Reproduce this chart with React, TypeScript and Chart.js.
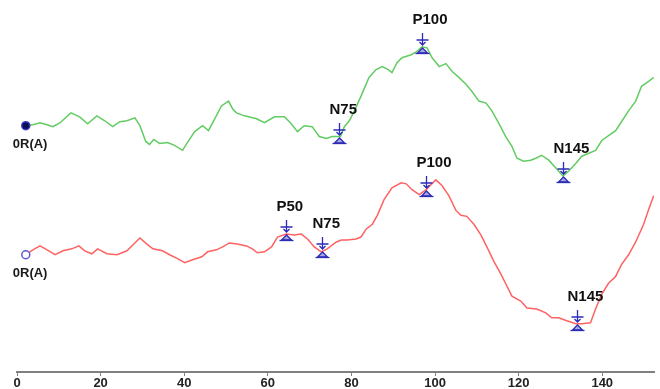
import React, { useEffect, useRef } from "react";
import { Chart, registerables } from "chart.js";

Chart.register(...registerables);

// ---- axis ----
const xMin = 0;
const xMax = 152.5;
const xTickStep = 20;

// ---- green trace (upper) : latency (ms) and amplitude ----
const greenLatency = [
  2.1, 3.8, 5.5, 7.2, 8.6, 10.3, 12.9, 15.0, 16.9, 19.1, 21.0, 22.9, 24.6, 26.3, 28.2, 29.4,
  30.8, 31.7, 32.7, 34.1, 36.0, 37.7, 39.6, 40.8, 42.5, 44.4, 45.8, 47.3, 48.9, 50.6, 51.6,
  52.5, 54.4, 57.3, 59.2, 61.6, 64.0, 65.6, 67.1, 68.7, 70.6, 72.3, 74.0, 75.4, 76.6, 77.4,
  78.3, 79.5, 80.7, 82.3, 84.2, 85.9, 87.4, 88.8, 89.7, 90.9, 92.1, 94.3, 95.5, 96.9, 98.1,
  99.3, 101.0, 102.6, 104.1, 105.7, 107.4, 108.8, 110.5, 112.2, 113.6, 115.3, 116.9, 118.4,
  119.6, 121.2, 122.9, 124.1, 125.5, 127.2, 128.9, 130.6, 132.0, 133.7, 135.1, 138.4, 139.9,
  141.5, 143.2, 144.6, 146.3, 148.0, 149.4, 151.1, 152.3,
];
const greenAmplitude = [
  0, 0.1, 0.3, 0.1, -0.1, 0.3, 1.3, 0.9, 0.2, 1.0, 0.5, -0.1, 0.4, 0.5, 0.8, 0,
  -1.6, -1.9, -1.4, -1.8, -1.7, -2.0, -2.5, -1.7, -0.6, 0, -0.5, 0.7, 2.0, 2.5, 1.7,
  1.3, 1.0, 0.7, 0.3, 0.9, 0.9, 0.2, -0.6, 0, -0.1, -1.1, -1.3, -1.1, -1.1, -1.1,
  -0.1, 0.5, 1.5, 3.0, 4.9, 5.7, 6.0, 5.7, 5.4, 6.4, 6.9, 7.2, 7.5, 8.0, 7.9,
  6.9, 6.0, 6.3, 5.5, 4.9, 4.2, 3.5, 2.5, 2.3, 1.5, 0.2, -1.1, -2.1,
  -3.3, -3.6, -3.5, -3.3, -3.0, -3.5, -4.3, -5.1, -4.6, -3.8, -3.1, -2.5, -1.5,
  -1.0, -0.5, 0.4, 1.5, 2.5, 4.0, 4.5, 4.9,
];
const greenOffset = 25.0;
const greenPeakLabels = ["N75", "P100", "N145"];
const greenPeakLatency = [77.1, 96.9, 130.6];

// ---- red trace (lower) ----
const redLatency = [
  2.1, 3.8, 5.5, 7.2, 9.1, 11.0, 13.1, 14.8, 16.2, 17.9, 19.3, 21.5, 23.9, 26.3, 27.7, 29.4,
  31.0, 32.5, 34.8, 36.5, 38.4, 40.1, 42.0, 44.2, 45.6, 47.7, 49.2, 50.8, 52.7, 54.9, 56.3,
  57.5, 59.2, 60.9, 62.3, 64.4, 66.3, 68.0, 69.5, 71.1, 72.8, 74.2, 76.4, 77.6, 79.0, 81.1,
  82.3, 83.5, 85.0, 86.2, 87.8, 89.7, 91.9, 93.1, 94.5, 96.2, 97.9, 99.0, 100.2, 101.7,
  103.3, 105.0, 106.2, 107.6, 109.3, 111.0, 112.4, 114.1, 115.8, 117.2, 118.4, 120.5, 122.0,
  124.3, 126.5, 127.9, 129.6, 131.5, 133.7, 135.1, 137.2, 138.4, 139.9, 141.5, 143.2, 144.6,
  146.3, 148.0, 149.9, 151.1, 152.3,
];
const redAmplitude = [
  0, 0.5, 0.9, 0.5, 0, 0.4, 0.6, 0.9, 0.4, 0.1, 0.6, 0.1, 0, 0.4, 1.0, 1.7,
  1.1, 0.6, 0.4, 0, -0.4, -0.8, -0.5, -0.2, 0.3, 0.5, 0.8, 1.2, 1.1, 0.9, 0.6,
  0.2, 0.3, 0.8, 1.8, 2.1, 2.0, 2.1, 1.6, 0.8, 0.3, 0.6, 1.3, 1.5, 1.5, 1.6,
  1.8, 2.6, 3.1, 4.0, 5.6, 6.8, 7.3, 7.2, 6.6, 6.1, 6.6, 7.1, 7.6, 7.0,
  6.0, 4.5, 4.0, 3.9, 3.1, 2.0, 0.8, -0.7, -2.0, -3.2, -4.2, -4.7, -5.4,
  -5.5, -5.9, -6.4, -6.4, -6.7, -7.0, -7.0, -6.9, -5.5, -4.0, -2.9, -2.2, -1.0,
  0, 1.3, 3.1, 4.6, 6.0,
];
const redOffset = 11.9;
const redPeakLabels = ["P50", "N75", "P100", "N145"];
const redPeakLatency = [64.4, 73.0, 97.9, 133.9];

const traceLabels = ["0R(A)", "0R(A)"];

const toPoints = (xs: number[], ys: number[], off: number) =>
  xs.map((x, i) => ({ x, y: ys[i] + off }));

const interp = (pts: { x: number; y: number }[], x: number) => {
  for (let i = 0; i < pts.length - 1; i++) {
    if (x >= pts[i].x && x <= pts[i + 1].x) {
      const t = (x - pts[i].x) / (pts[i + 1].x - pts[i].x);
      return pts[i].y + t * (pts[i + 1].y - pts[i].y);
    }
  }
  return pts[pts.length - 1].y;
};

const peakPlugin = {
  id: "peaks",
  afterDatasetsDraw(chart: any) {
    const { ctx, scales } = chart;
    const xs = scales.x;
    const ys = scales.y;
    const peaks = [
      { labels: greenPeakLabels, lat: greenPeakLatency },
      { labels: redPeakLabels, lat: redPeakLatency },
    ];
    ctx.save();
    chart.data.datasets.forEach((ds: any, di: number) => {
      const pts = ds.data as { x: number; y: number }[];
      const sx = xs.getPixelForValue(pts[0].x);
      const sy = ys.getPixelForValue(pts[0].y);
      ctx.font = 'bold 13px "Liberation Sans", Arial, sans-serif';
      ctx.fillStyle = "#1a1a1a";
      ctx.textAlign = "left";
      ctx.textBaseline = "middle";
      ctx.fillText(traceLabels[di], sx - 13, sy + 19);

      const pk = peaks[di];
      pk.lat.forEach((lat, k) => {
        const mx = Math.round(xs.getPixelForValue(lat)) + 0.5;
        const my = Math.round(ys.getPixelForValue(interp(pts, lat)));
        ctx.strokeStyle = "#2b2bb5";
        ctx.fillStyle = "rgba(60,60,200,0.45)";
        ctx.lineWidth = 1.3;
        // arrow above
        ctx.beginPath();
        ctx.moveTo(mx, my - 14);
        ctx.lineTo(mx, my - 2);
        ctx.moveTo(mx - 6, my - 7);
        ctx.lineTo(mx + 6, my - 7);
        ctx.moveTo(mx - 3, my - 5);
        ctx.lineTo(mx, my - 2);
        ctx.lineTo(mx + 3, my - 5);
        ctx.stroke();
        // triangle below
        ctx.beginPath();
        ctx.moveTo(mx, my + 1);
        ctx.lineTo(mx - 5, my + 6);
        ctx.lineTo(mx + 5, my + 6);
        ctx.closePath();
        ctx.fill();
        ctx.stroke();
        ctx.beginPath();
        ctx.moveTo(mx - 7, my + 6.5);
        ctx.lineTo(mx + 7, my + 6.5);
        ctx.stroke();
        // label
        ctx.font = 'bold 15px "Liberation Sans", Arial, sans-serif';
        ctx.fillStyle = "#111";
        ctx.textAlign = "left";
        ctx.textBaseline = "middle";
        ctx.fillText(pk.labels[k], mx - 10, my - 27);
      });
    });
    ctx.restore();
  },
};

export default function App() {
  const ref = useRef<HTMLCanvasElement | null>(null);
  useEffect(() => {
    if (!ref.current) return;
    const chart = new Chart(ref.current, {
      type: "line",
      data: {
        datasets: [
          {
            data: toPoints(greenLatency, greenAmplitude, greenOffset),
            borderColor: "#62cc62",
            borderWidth: 1.5,
            tension: 0,
            pointRadius: (c: any) => (c.dataIndex === 0 ? 4 : 0),
            pointBackgroundColor: "#0d0d55",
            pointBorderColor: "#3a3ac8",
            pointBorderWidth: 1.5,
          },
          {
            data: toPoints(redLatency, redAmplitude, redOffset),
            borderColor: "#ff6262",
            borderWidth: 1.5,
            tension: 0,
            pointRadius: (c: any) => (c.dataIndex === 0 ? 4 : 0),
            pointBackgroundColor: "#ffffff",
            pointBorderColor: "#5a5ad0",
            pointBorderWidth: 1.5,
          },
        ],
      },
      options: {
        animation: false,
        responsive: false,
        layout: { padding: { left: 17, right: 5, top: 0, bottom: 0 } },
        plugins: { legend: { display: false }, tooltip: { enabled: false } },
        scales: {
          x: {
            type: "linear",
            min: xMin,
            max: xMax,
            ticks: {
              stepSize: xTickStep,
              includeBounds: false,
              autoSkip: false,
              padding: 0,
              color: "#222",
              maxRotation: 0,
              font: {
                family: '"Liberation Sans Narrow", "Liberation Sans", Arial, sans-serif',
                size: 13,
                weight: "bold",
              },
            },
            grid: {
              display: true,
              drawOnChartArea: false,
              drawTicks: true,
              tickLength: 4,
              color: "#808080",
            },
            border: { display: true, color: "#808080", width: 2 },
            afterBuildTicks: (s: any) => {
              s.ticks = s.ticks.filter((t: any) => t.value % xTickStep === 0);
            },
            afterFit: (s: any) => {
              s.height = 17;
            },
          },
          y: { display: false, min: 0, max: 37.2 },
        },
      },
      plugins: [peakPlugin],
    } as any);
    return () => chart.destroy();
  }, []);
  return (
    <div style={{ position: "absolute", left: 0, top: 0, width: 660, height: 389, background: "#fff" }}>
      <canvas ref={ref} width={660} height={389} />
    </div>
  );
}
